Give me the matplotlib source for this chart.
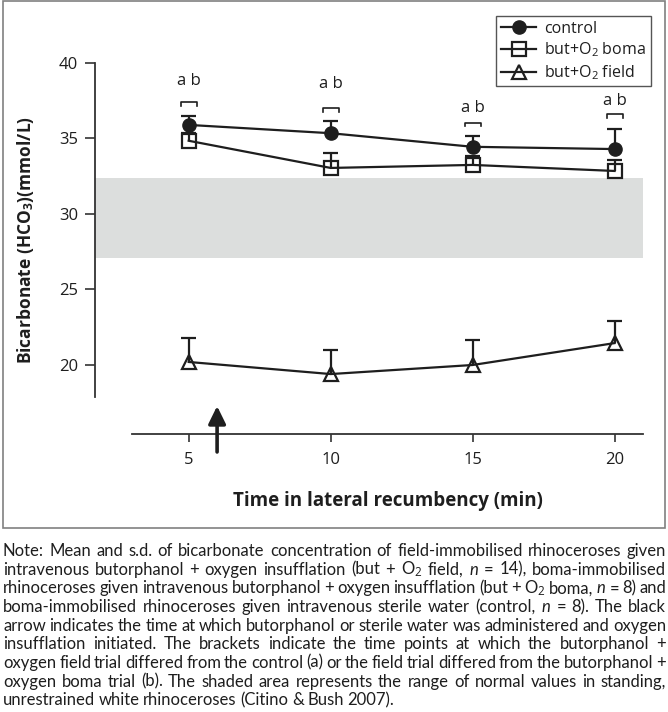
import matplotlib
matplotlib.use("Agg")
import matplotlib.pyplot as plt
from matplotlib.patches import Rectangle
import numpy as np

# data
times = [5, 10, 15, 20]
control = [35.9, 35.35, 34.45, 34.3]
control_sd = [0.6, 0.8, 0.7, 1.35]
boma = [34.85, 33.05, 33.25, 32.85]
boma_sd = [0.5, 1.0, 0.6, 0.7]
field = [20.2, 19.4, 20.0, 21.45]
field_sd = [1.6, 1.6, 1.65, 1.45]

normal_range = [27.07, 32.36]
bracket_y = [37.4, 37.0, 36.05, 36.6]
label_y = [38.8, 38.6, 37.05, 37.5]
arrow_time = 6

note_lines = [
    "Note: Mean and s.d. of bicarbonate concentration of field-immobilised rhinoceroses given",
    "intravenous butorphanol + oxygen insufflation (but + O$_2$ field, $n$ = 14), boma-immobilised",
    "rhinoceroses given intravenous butorphanol + oxygen insufflation (but + O$_2$ boma, $n$ = 8) and",
    "boma-immobilised rhinoceroses given intravenous sterile water (control, $n$ = 8). The black",
    "arrow indicates the time at which butorphanol or sterile water was administered and oxygen",
    "insufflation initiated. The brackets indicate the time points at which the butorphanol +",
    "oxygen field trial differed from the control (a) or the field trial differed from the butorphanol +",
    "oxygen boma trial (b). The shaded area represents the range of normal values in standing,",
    "unrestrained white rhinoceroses (Citino & Bush 2007).",
]

W, H = 668, 712
INK = "#1e1e1e"

plt.rcParams["font.family"] = ["Open Sans", "DejaVu Sans"]
plt.rcParams["mathtext.fontset"] = "custom"
plt.rcParams["mathtext.rm"] = "Open Sans"
plt.rcParams["mathtext.it"] = "Lato:italic"
plt.rcParams["mathtext.bf"] = "Open Sans:bold"
plt.rcParams["text.color"] = INK

fig = plt.figure(figsize=(W / 100, H / 100), dpi=100)
ax = fig.add_axes([95 / W, (H - 434) / H, (643 - 95) / W, (434 - 63) / H])
ax.set_xlim(1.70, 21.0)
ax.set_ylim(15.43, 40)

# shaded normal range
ax.axhspan(normal_range[0], normal_range[1], color="#dcdedd", lw=0, zorder=0)

t = np.array(times, dtype=float)
cw = 0.27
for mean, sd in [(control, control_sd), (boma, boma_sd), (field, field_sd)]:
    m = np.array(mean)
    top = m + np.array(sd)
    ax.vlines(t, m, top, color=INK, lw=1.6, zorder=2)
    ax.hlines(top, t - cw, t + cw, color=INK, lw=1.6, zorder=2)

ax.plot(times, control, color=INK, lw=1.6, marker="o", ms=9.5, mfc=INK, mec=INK,
        zorder=4, label="control")
ax.plot(times, boma, color=INK, lw=1.6, marker="s", ms=9.5, mfc="none", mec=INK,
        mew=1.6, zorder=3, label="but+O$_2$ boma")
ax.plot(times, field, color=INK, lw=1.6, marker="^", ms=10, mfc="none", mec=INK,
        mew=1.6, zorder=3, label="but+O$_2$ field")

# significance brackets
for x, yb, yl in zip(times, bracket_y, label_y):
    ax.plot([x - 0.28, x - 0.28, x + 0.28, x + 0.28], [yb - 0.22, yb, yb, yb - 0.22],
            color=INK, lw=1.2, clip_on=False)
    ax.text(x, yl, "a b", ha="center", va="center", fontsize=12)

# arrow for butorphanol administration
ax.annotate("", xy=(arrow_time, 17.28), xytext=(arrow_time, 14.24),
            arrowprops=dict(arrowstyle="-|>,head_length=0.53,head_width=0.26",
                            lw=2.6, color=INK, mutation_scale=20,
                            shrinkA=0, shrinkB=0),
            annotation_clip=False)

for s in ["top", "right"]:
    ax.spines[s].set_visible(False)
ax.spines["left"].set_bounds(17.9, 40)
ax.spines["bottom"].set_bounds(3.02, 21.0)
for s in ["left", "bottom"]:
    ax.spines[s].set_linewidth(1.3)
    ax.spines[s].set_color("#333333")
ax.set_xticks(times)
ax.set_yticks([20, 25, 30, 35, 40])
ax.tick_params(axis="y", length=7, width=1.2, pad=5, labelsize=12, colors="#333333",
               labelcolor=INK)
ax.tick_params(axis="x", length=6, width=1.2, pad=7, labelsize=12, colors="#333333",
               labelcolor=INK)

fig.text(26 / W, 1 - 240 / H, "Bicarbonate (HCO$_\\mathbf{3}$)(mmol/L)", rotation=90,
         ha="center", va="center", fontsize=12.5, fontweight="bold")
fig.text(388 / W, 1 - 501 / H, "Time in lateral recumbency (min)",
         ha="center", va="center", fontsize=13.5, fontweight="bold")

leg = fig.legend(loc="upper right", bbox_to_anchor=(651 / W, 1 - 16 / H),
                 borderaxespad=0, fancybox=False, framealpha=1, edgecolor="#555555",
                 fontsize=11.5, handlelength=2.2, labelspacing=0.25, borderpad=0.3,
                 handletextpad=0.5)
leg.get_frame().set_linewidth(1.0)

# frame round the chart
fig.add_artist(Rectangle((3 / W, 1 - 528 / H), 662 / W, 527 / H, transform=fig.transFigure,
                         fill=False, ec="#808080", lw=1.2))

# justified note text below the chart
fig.canvas.draw()
r = fig.canvas.get_renderer()
left, right = 3, 666
for i, line in enumerate(note_lines):
    words = line.split(" ")
    y = 1 - (556 + i * 18.65) / H
    texts = [fig.text(0, y, w, fontsize=12, family=["Lato", "DejaVu Sans"],
                      va="baseline", ha="left") for w in words]
    widths = [tx.get_window_extent(r).width for tx in texts]
    if i < len(note_lines) - 1:
        gap = (right - left - sum(widths)) / (len(words) - 1)
    else:
        gap = 3.6
    x = left
    for tx, w in zip(texts, widths):
        tx.set_x(x / W)
        x += w + gap

fig.savefig("out.png", dpi=100)
